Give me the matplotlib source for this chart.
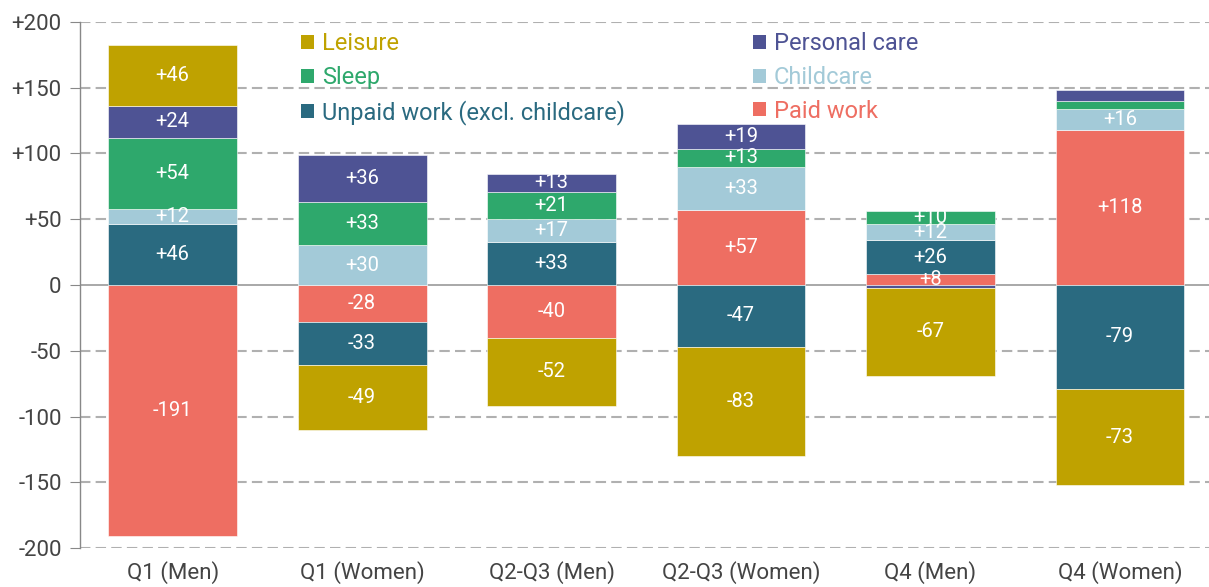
import numpy as np
import matplotlib
matplotlib.use('Agg')
import matplotlib.pyplot as plt
from matplotlib.patches import Patch

plt.rcParams['font.family'] = ['Roboto', 'DejaVu Sans']

categories = ['Q1 (Men)', 'Q1 (Women)', 'Q2-Q3 (Men)', 'Q2-Q3 (Women)', 'Q4 (Men)', 'Q4 (Women)']

# stacking order from zero outward
series = ['Paid work', 'Unpaid work (excl. childcare)', 'Childcare', 'Sleep', 'Personal care', 'Leisure']
paid = [-191, -28, -40, 57, 8, 118]
unpaid = [46, -33, 33, -47, 26, -79]
childcare = [12, 30, 17, 33, 12, 16]
sleep = [54, 33, 21, 13, 10, 6]
personal = [24, 36, 13, 19, -2, 8]
leisure = [46, -49, -52, -83, -67, -73]

colors = {
    'Leisure': '#BFA200',
    'Personal care': '#4E5394',
    'Sleep': '#2EA86C',
    'Childcare': '#A3CAD8',
    'Unpaid work (excl. childcare)': '#2A6A80',
    'Paid work': '#EE6E62',
}
values = [paid, unpaid, childcare, sleep, personal, leisure]

fig, ax = plt.subplots(figsize=(12.09, 5.87), dpi=100)
fig.subplots_adjust(left=0.066, right=1.0, top=0.963, bottom=0.066)

x = np.arange(len(categories))
pos_base = np.zeros(len(categories))
neg_base = np.zeros(len(categories))
width = 0.68
for name, vals in zip(series, values):
    vals = np.array(vals, dtype=float)
    bottoms = np.where(vals >= 0, pos_base, neg_base)
    ax.bar(x, vals, width, bottom=bottoms, color=colors[name],
           edgecolor='white', linewidth=0.4, zorder=3)
    for xi, v, b in zip(x, vals, bottoms):
        if abs(v) >= 8 and not (categories[xi] == 'Q4 (Women)' and name == 'Personal care'):
            lab = '%+d' % v if v > 0 else '%d' % v
            ax.text(xi, b + v / 2, lab, ha='center', va='center', color='white',
                    fontsize=14.5, zorder=4)
    pos_base = pos_base + np.where(vals >= 0, vals, 0)
    neg_base = neg_base + np.where(vals < 0, vals, 0)

ax.set_ylim(-200, 200)
ax.set_xlim(-0.49, 5.47)
yt = np.arange(-200, 201, 50)
ax.set_yticks(yt)
ax.set_yticklabels(['+%d' % t if t > 0 else '%d' % t for t in yt])
for t in yt:
    if t == 0:
        ax.axhline(0, color='#999999', lw=1.2, zorder=2)
    else:
        ax.axhline(t, color='#B0B0B0', lw=1.5, ls=(0, (5, 2.5)), zorder=1)

ax.set_xticks(x)
ax.set_xticklabels(categories)
ax.tick_params(axis='x', length=0, labelsize=16, labelcolor='#444444', pad=9)
ax.tick_params(axis='y', length=7, color='#888888', labelsize=16, labelcolor='#444444', pad=6)
for s in ['top', 'right', 'bottom']:
    ax.spines[s].set_visible(False)
ax.spines['left'].set_color('#888888')
ax.spines['left'].set_linewidth(1)

order = ['Leisure', 'Sleep', 'Unpaid work (excl. childcare)', 'Personal care', 'Childcare', 'Paid work']
handles = [Patch(facecolor=colors[n], edgecolor='none') for n in order]
leg = ax.legend(handles, order, ncol=2, loc='upper left', bbox_to_anchor=(0.177, 1.02),
                frameon=False, fontsize=17, handlelength=0.55, handleheight=0.55,
                handletextpad=0.35, columnspacing=5.4, labelspacing=0.45)
for txt, n in zip(leg.get_texts(), order):
    txt.set_color(colors[n])

fig.savefig('out.png', dpi=100)
